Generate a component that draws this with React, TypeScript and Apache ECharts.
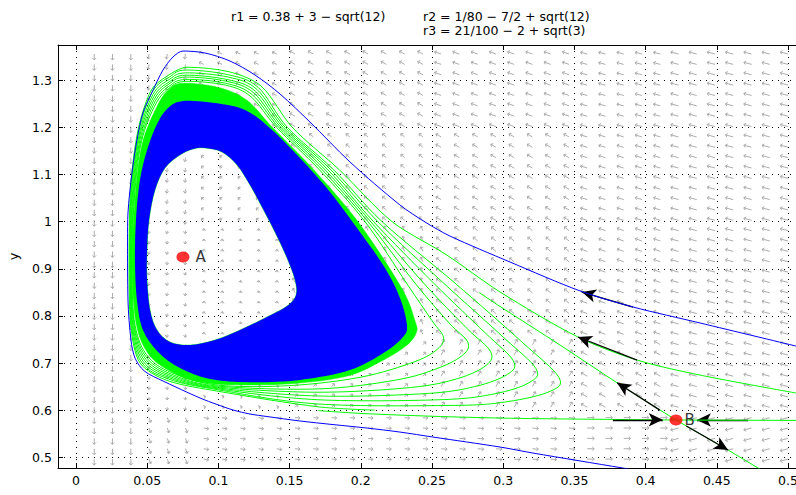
import React, { useEffect, useRef } from 'react';
import * as echarts from 'echarts';

const FONT = '"DejaVu Sans", sans-serif';

const xRange = [-0.01264, 0.5056];
const yRange = [0.4771, 1.3752];

const titleLeft = 'r1 = 0.38 + 3 − sqrt(12)';
const titleRight1 = 'r2 = 1/80 − 7/2 + sqrt(12)';
const titleRight2 = 'r3 = 21/100 − 2 + sqrt(3)';

const equilibria = [
  { name: 'A', x: 0.0751, y: 0.925, dist: 6 },
  { name: 'B', x: 0.4213, y: 0.579, dist: 2 },
];

// outer blue trajectory
const blueTrajectory = [
  [0.5056, 0.736], [0.4382, 0.785], [0.3912, 0.8189], [0.354, 0.853], [0.3048, 0.9144],
  [0.2626, 0.9696], [0.2451, 0.9994], [0.2275, 1.0355], [0.1924, 1.1268], [0.1643, 1.2117],
  [0.1433, 1.2711], [0.1257, 1.3115], [0.1081, 1.3412], [0.0906, 1.3582], [0.0751, 1.3624],
  [0.0681, 1.3497], [0.0611, 1.3221], [0.0541, 1.2796], [0.047, 1.2308], [0.0428, 1.1735],
  [0.0393, 1.1034], [0.0365, 1.0185], [0.0362, 0.9611], [0.0365, 0.8338], [0.0386, 0.7488],
  [0.0415, 0.71], [0.048, 0.683], [0.0611, 0.6618], [0.0871, 0.6257], [0.099, 0.612],
  [0.1103, 0.6002], [0.1222, 0.5917], [0.1341, 0.5864], [0.1573, 0.5769], [0.1805, 0.5693],
  [0.2044, 0.5619], [0.2275, 0.5534], [0.2507, 0.5428], [0.2978, 0.5216], [0.3209, 0.5088],
  [0.3841, 0.477], [0.40, 0.469],
];

// dense blue spiral band: outer edge and inner (white) hole
const blueBandOuter = [
  [0.0751, 1.2563], [0.0976, 1.252], [0.1187, 1.2372], [0.1362, 1.199], [0.1573, 1.1353],
  [0.1784, 1.063], [0.1994, 0.978], [0.217, 0.9017], [0.2275, 0.838], [0.2324, 0.7807],
  [0.2296, 0.7552], [0.217, 0.7234], [0.1924, 0.685], [0.1573, 0.664], [0.1222, 0.659],
  [0.0941, 0.666], [0.073, 0.6894], [0.0576, 0.7234], [0.047, 0.77], [0.0428, 0.8338],
  [0.0414, 0.9187], [0.0421, 1.0036], [0.0449, 1.0885], [0.0499, 1.1522], [0.0569, 1.2074],
  [0.0646, 1.2414],
];
const whiteHole = [
  [0.0906, 1.1565], [0.1025, 1.148], [0.1131, 1.1204], [0.1222, 1.078], [0.1306, 1.0312],
  [0.1397, 0.9781], [0.1482, 0.9229], [0.1538, 0.8762], [0.1545, 0.8444], [0.1482, 0.821],
  [0.1327, 0.7955], [0.1152, 0.77], [0.0976, 0.7488], [0.0801, 0.7382], [0.066, 0.7446],
  [0.0569, 0.77], [0.052, 0.8125], [0.0499, 0.8762], [0.0499, 0.9399], [0.0513, 1.0036],
  [0.0555, 1.0673], [0.0625, 1.114], [0.073, 1.1416], [0.0822, 1.1544],
];

// dense green band outer edge
const greenBandOuter = [
  [0.075, 1.294], [0.1, 1.285], [0.12, 1.258], [0.138, 1.2], [0.167, 1.11], [0.198, 1.0],
  [0.2285, 0.86], [0.238, 0.79], [0.239, 0.765], [0.232, 0.737], [0.215, 0.705], [0.19, 0.672],
  [0.15, 0.656], [0.11, 0.654], [0.085, 0.661], [0.068, 0.68], [0.052, 0.715], [0.0425, 0.78],
  [0.0395, 0.9], [0.0415, 1.05], [0.0465, 1.165], [0.057, 1.245], [0.065, 1.28],
];

// separated green spiral turns
const greenLoop1 = [
  [0.077, 1.298], [0.105, 1.29], [0.123, 1.265], [0.141, 1.2], [0.171, 1.11], [0.203, 1.0],
  [0.232, 0.87], [0.25, 0.79], [0.258, 0.755], [0.254, 0.73], [0.238, 0.703], [0.2, 0.67],
  [0.15, 0.652], [0.1, 0.653], [0.07, 0.676], [0.051, 0.712], [0.0415, 0.78], [0.0393, 0.9],
  [0.041, 1.05], [0.046, 1.17], [0.056, 1.25], [0.066, 1.285],
];
const greenLoop2 = [
  [0.077, 1.302], [0.105, 1.294], [0.124, 1.269], [0.1425, 1.2], [0.173, 1.11], [0.205, 1.0],
  [0.238, 0.87], [0.262, 0.785], [0.275, 0.745], [0.272, 0.718], [0.255, 0.69], [0.225, 0.664],
  [0.17, 0.645], [0.1, 0.651], [0.069, 0.674], [0.05, 0.71], [0.041, 0.78], [0.039, 0.9],
  [0.0405, 1.05], [0.0455, 1.172], [0.0555, 1.255], [0.066, 1.289],
];
const greenLoop3 = [
  [0.077, 1.307], [0.106, 1.298], [0.125, 1.273], [0.144, 1.2], [0.175, 1.11], [0.207, 1.0],
  [0.244, 0.87], [0.274, 0.775], [0.291, 0.725], [0.288, 0.695], [0.268, 0.667], [0.235, 0.648],
  [0.17, 0.638], [0.1, 0.649], [0.068, 0.672], [0.049, 0.708], [0.0405, 0.78], [0.0387, 0.9],
  [0.04, 1.05], [0.045, 1.175], [0.055, 1.26], [0.066, 1.294],
];
const greenLoop4 = [
  [0.077, 1.311], [0.106, 1.302], [0.126, 1.277], [0.1455, 1.2], [0.177, 1.11], [0.209, 1.0],
  [0.251, 0.87], [0.287, 0.765], [0.307, 0.705], [0.303, 0.676], [0.28, 0.65], [0.245, 0.635],
  [0.17, 0.63], [0.1, 0.647], [0.067, 0.67], [0.048, 0.706], [0.04, 0.78], [0.0384, 0.9],
  [0.0395, 1.05], [0.0445, 1.178], [0.0545, 1.265], [0.066, 1.298],
];
const greenLoop5 = [
  [0.077, 1.316], [0.107, 1.307], [0.127, 1.281], [0.147, 1.2], [0.179, 1.11], [0.212, 1.0],
  [0.258, 0.87], [0.3, 0.755], [0.323, 0.688], [0.318, 0.658], [0.293, 0.634], [0.255, 0.622],
  [0.17, 0.622], [0.1, 0.645], [0.066, 0.668], [0.047, 0.704], [0.0395, 0.78], [0.0381, 0.9],
  [0.039, 1.05], [0.044, 1.18], [0.054, 1.27], [0.066, 1.303],
];
const greenLoop6 = [
  [0.077, 1.322], [0.107, 1.312], [0.128, 1.285], [0.1485, 1.2], [0.181, 1.11], [0.215, 1.0],
  [0.266, 0.87], [0.313, 0.745], [0.339, 0.67], [0.333, 0.64], [0.303, 0.618], [0.265, 0.61],
  [0.17, 0.613], [0.1, 0.643], [0.065, 0.666], [0.046, 0.702], [0.039, 0.78], [0.0378, 0.9],
  [0.0385, 1.05], [0.0435, 1.183], [0.0535, 1.275], [0.066, 1.308],
];
const greenLoops = [greenLoop1, greenLoop2, greenLoop3, greenLoop4, greenLoop5, greenLoop6];

// outermost green trajectory entering from the right
const greenTrajectory = [
  [0.5056, 0.6363], [0.438, 0.6745], [0.394, 0.7063], [0.3525, 0.7552], [0.2978, 0.8508],
  [0.26, 0.93], [0.222, 1.0], [0.185, 1.11], [0.152, 1.2], [0.13, 1.288], [0.108, 1.318],
  [0.078, 1.328], [0.066, 1.313], [0.053, 1.28], [0.043, 1.186], [0.038, 1.05], [0.0373, 0.9],
  [0.0385, 0.78], [0.045, 0.7], [0.064, 0.663], [0.1, 0.64], [0.17, 0.607], [0.21, 0.6],
];
// saddle B manifolds
const unstableUp = [[0.4213, 0.579], [0.38, 0.658], [0.34, 0.738], [0.2978, 0.82], [0.283, 0.85]];
const unstableDown = [[0.4213, 0.579], [0.4579, 0.5152], [0.479, 0.477], [0.49, 0.458]];
const stableLeft = [[0.4213, 0.579], [0.35, 0.581], [0.3, 0.583], [0.25, 0.587], [0.2, 0.593], [0.17, 0.599]];
const stableRight = [[0.4213, 0.579], [0.52, 0.578]];

// black direction arrows: [tail, head]
const flowArrows = [
  [[0.3912, 0.8189], [0.3553, 0.8507]],
  [[0.394, 0.7063], [0.3525, 0.7552]],
  [[0.41, 0.6], [0.38, 0.658]],
  [[0.377, 0.5795], [0.412, 0.5795]],
  [[0.472, 0.579], [0.436, 0.579]],
  [[0.4286, 0.5662], [0.4579, 0.5152]],
];

// direction field sample grid
const fieldX = [
  0.0128, 0.0256, 0.0385, 0.0513, 0.0641, 0.0769, 0.0897, 0.1026, 0.1154, 0.1282, 0.141,
  0.1538, 0.1667, 0.1795, 0.1923, 0.2051, 0.2179, 0.2308, 0.2436, 0.2564, 0.2692, 0.2821,
  0.2949, 0.3077, 0.3205, 0.3333, 0.3462, 0.359, 0.3718, 0.3846, 0.3974, 0.4103, 0.4231,
  0.4359, 0.4487, 0.4615, 0.4744, 0.4872, 0.5,
];
const fieldY = [
  0.496, 0.518, 0.54, 0.562, 0.584, 0.606, 0.628, 0.65, 0.672, 0.694, 0.717, 0.739, 0.761,
  0.783, 0.805, 0.827, 0.849, 0.871, 0.893, 0.915, 0.937, 0.959, 0.981, 1.003, 1.025, 1.047,
  1.069, 1.092, 1.114, 1.136, 1.158, 1.18, 1.202, 1.224, 1.246, 1.268, 1.29, 1.312, 1.334, 1.356,
];
const fieldXEdges = [0.045, 0.08, 0.15, 0.25, 0.35, 0.42];
const fieldYEdges = [0.6, 0.75, 1.0, 1.2];
const fieldAngle = [
  [-90, -90, -90, -90, -90],
  [-70, -95, -100, -100, -100],
  [-10, 20, 80, 140, 155],
  [-5, 45, 115, 140, 150],
  [-5, 60, 140, 150, 160],
  [0, 150, 160, 163, 165],
  [195, 165, 165, 165, 165],
];
const fieldLen = [
  [6, 6, 6, 6, 6],
  [5, 3, 3, 4, 5],
  [5, 2, 2, 3, 5],
  [5, 4, 5, 5, 6],
  [6, 6, 6, 6, 7],
  [7, 7, 7, 7, 7],
  [8, 8, 8, 8, 8],
];

function zoneOf(v: number, edges: number[]) {
  let k = 0;
  while (k < edges.length && v >= edges[k]) k++;
  return k;
}

function smoothClosed(pts: number[][]): string {
  const n = pts.length;
  const f = (v: number) => v.toFixed(2);
  let d = `M${f(pts[0][0])} ${f(pts[0][1])}`;
  for (let i = 0; i < n; i++) {
    const p0 = pts[(i - 1 + n) % n], p1 = pts[i], p2 = pts[(i + 1) % n], p3 = pts[(i + 2) % n];
    const c1x = p1[0] + (p2[0] - p0[0]) / 6, c1y = p1[1] + (p2[1] - p0[1]) / 6;
    const c2x = p2[0] - (p3[0] - p1[0]) / 6, c2y = p2[1] - (p3[1] - p1[1]) / 6;
    d += ` C${f(c1x)} ${f(c1y)} ${f(c2x)} ${f(c2y)} ${f(p2[0])} ${f(p2[1])}`;
  }
  return d + ' Z';
}
function signedArea(pts: number[][]) {
  let s = 0;
  for (let i = 0; i < pts.length; i++) {
    const a = pts[i], b = pts[(i + 1) % pts.length];
    s += a[0] * b[1] - b[0] * a[1];
  }
  return s;
}
function withHole(outer: number[][], hole: number[][]) {
  let h = hole;
  if (Math.sign(signedArea(outer)) === Math.sign(signedArea(hole))) h = hole.slice().reverse();
  return smoothClosed(outer) + ' ' + smoothClosed(h);
}

const tickFmt = (step: number) => (v: number) => {
  const k = Math.round(v / step);
  if (Math.abs(v - k * step) > step * 1e-3) return '';
  return String(parseFloat((k * step).toFixed(3)));
};

export default function App() {
  const ref = useRef<HTMLDivElement>(null);
  useEffect(() => {
    if (!ref.current) return;
    const chart = echarts.init(ref.current, null, { renderer: 'svg' });

    const fieldData: number[][] = [];
    fieldX.forEach((x) => {
      const zx = zoneOf(x, fieldXEdges);
      fieldY.forEach((y) => {
        const zy = zoneOf(y, fieldYEdges);
        fieldData.push([x, y, fieldAngle[zx][zy], fieldLen[zx][zy]]);
      });
    });

    const lineSeries = (name: string, data: number[][], color: string, z: number, extra: any = {}) => ({
      type: 'line', name, data, z, smooth: 0.3, showSymbol: false, symbol: 'none', silent: true,
      lineStyle: { color, width: 1 }, clip: true, ...extra,
    });

    const axisText = { color: '#000', fontSize: 12.5, fontFamily: FONT };

    const option: any = {
      animation: false,
      backgroundColor: '#ffffff',
      grid: { left: 58, right: 0, top: 45, bottom: 27, containLabel: false, outerBoundsMode: 'none' },
      graphic: [
        { type: 'text', left: 231, top: 10, style: { text: titleLeft, fill: '#000', fontSize: 12.5, fontFamily: FONT } },
        { type: 'text', left: 423, top: 10, style: { text: titleRight1, fill: '#000', fontSize: 12.5, fontFamily: FONT } },
        { type: 'text', left: 423, top: 24, style: { text: titleRight2, fill: '#000', fontSize: 12.5, fontFamily: FONT } },
      ],
      xAxis: [
        {
          type: 'value', position: 'bottom', min: xRange[0], max: xRange[1], splitNumber: 10,
          axisLine: { show: true, onZero: false, lineStyle: { color: '#000', width: 1 } },
          axisTick: { show: true, inside: true, length: 5, lineStyle: { color: '#000' } },
          axisLabel: { ...axisText, margin: 6, formatter: tickFmt(0.05), showMinLabel: true, showMaxLabel: true },
          splitLine: { show: true, showMinLine: false, showMaxLine: false, lineStyle: { color: '#000', width: 1, type: [1, 5] } },
          name: 'x', nameLocation: 'middle', nameGap: 17,
          nameTextStyle: { color: '#000', fontSize: 13, fontFamily: FONT },
        },
        {
          type: 'value', position: 'top', min: xRange[0], max: xRange[1], splitNumber: 10,
          axisLine: { show: true, onZero: false, lineStyle: { color: '#000', width: 1 } },
          axisTick: { show: true, inside: true, length: 5, lineStyle: { color: '#000' } },
          axisLabel: { show: false },
          splitLine: { show: false },
        },
      ],
      yAxis: [
        {
          type: 'value', min: yRange[0], max: yRange[1], splitNumber: 9,
          axisLine: { show: true, onZero: false, lineStyle: { color: '#000', width: 1 } },
          axisTick: { show: true, inside: true, length: 5, lineStyle: { color: '#000' } },
          axisLabel: { ...axisText, margin: 6, formatter: tickFmt(0.1) },
          splitLine: { show: true, showMinLine: false, showMaxLine: false, lineStyle: { color: '#000', width: 1, type: [1, 5] } },
          name: 'y', nameLocation: 'middle', nameRotate: 90, nameGap: 38,
          nameTextStyle: { color: '#000', fontSize: 13, fontFamily: FONT },
        },
      ],
      series: [
        {
          type: 'custom', name: 'field', coordinateSystem: 'cartesian2d', silent: true, z: 1, clip: true,
          data: fieldData, encode: { x: 0, y: 1 },
          renderItem: (params: any, api: any) => {
            const p = api.coord([api.value(0), api.value(1)]);
            const a = (api.value(2) * Math.PI) / 180;
            const L = api.value(3);
            const tx = p[0] + L * Math.cos(a), ty = p[1] - L * Math.sin(a);
            const b = a + Math.PI, hl = 2.6, ha = 0.75;
            const h1 = [tx + hl * Math.cos(b + ha), ty - hl * Math.sin(b + ha)];
            const h2 = [tx + hl * Math.cos(b - ha), ty - hl * Math.sin(b - ha)];
            const st = { stroke: '#adadad', lineWidth: 1, fill: 'none' };
            return {
              type: 'group',
              children: [
                { type: 'line', shape: { x1: p[0], y1: p[1], x2: tx, y2: ty }, style: st },
                { type: 'polyline', shape: { points: [h1, [tx, ty], h2] }, style: st },
              ],
            };
          },
        },
        {
          type: 'custom', name: 'greenLoops', coordinateSystem: 'cartesian2d', silent: true, z: 2, clip: true,
          data: greenLoops.map((l, i) => [l[0][0], l[0][1], i]), encode: { x: 0, y: 1 },
          renderItem: (params: any, api: any) => {
            const pts = greenLoops[api.value(2)].map((q) => api.coord(q));
            return { type: 'path', shape: { pathData: smoothClosed(pts) }, style: { fill: 'none', stroke: '#00ff00', lineWidth: 1 } };
          },
        },
        lineSeries('greenTrajectory', greenTrajectory, '#00ff00', 3),
        lineSeries('unstableUp', unstableUp, '#00ff00', 3),
        lineSeries('unstableDown', unstableDown, '#00ff00', 3),
        lineSeries('stableLeft', stableLeft, '#00ff00', 3),
        {
          type: 'custom', name: 'greenBand', coordinateSystem: 'cartesian2d', silent: true, z: 4, clip: true,
          data: [[greenBandOuter[0][0], greenBandOuter[0][1]]], encode: { x: 0, y: 1 },
          renderItem: (params: any, api: any) => {
            const o = greenBandOuter.map((q) => api.coord(q));
            const h = whiteHole.map((q) => api.coord(q));
            return { type: 'path', shape: { pathData: withHole(o, h) }, style: { fill: '#00ff00', stroke: '#00ff00', lineWidth: 0.5 } };
          },
        },
        {
          type: 'custom', name: 'blueBand', coordinateSystem: 'cartesian2d', silent: true, z: 5, clip: true,
          data: [[blueBandOuter[0][0], blueBandOuter[0][1]]], encode: { x: 0, y: 1 },
          renderItem: (params: any, api: any) => {
            const o = blueBandOuter.map((q) => api.coord(q));
            const h = whiteHole.map((q) => api.coord(q));
            return { type: 'path', shape: { pathData: withHole(o, h) }, style: { fill: '#0000ff', stroke: 'none' } };
          },
        },
        lineSeries('blueTrajectory', blueTrajectory, '#0000ff', 6),
        lineSeries('stableRight', stableRight, '#00ff00', 7, {
          smooth: false,
          markLine: {
            silent: true, animation: false, symbol: ['none', 'arrow'], symbolSize: [10, 14],
            lineStyle: { color: '#000', width: 1.3, type: 'solid' }, label: { show: false },
            emphasis: { disabled: true },
            data: flowArrows.map((ar) => [{ coord: ar[0] }, { coord: ar[1] }]),
          },
        }),
        {
          type: 'scatter', name: 'equilibria', z: 9, silent: true, symbol: 'circle', symbolSize: [13, 11],
          itemStyle: { color: '#ff0000' },
          data: equilibria.map((e) => ({
            value: [e.x, e.y],
            label: { show: true, formatter: e.name, position: 'right', distance: e.dist, color: '#000', fontSize: 15, fontFamily: FONT },
          })),
        },
      ],
    };
    chart.setOption(option);
    return () => chart.dispose();
  }, []);
  return <div ref={ref} style={{ position: 'fixed', left: 0, top: 0, width: 796, height: 495, background: '#fff' }} />;
}
